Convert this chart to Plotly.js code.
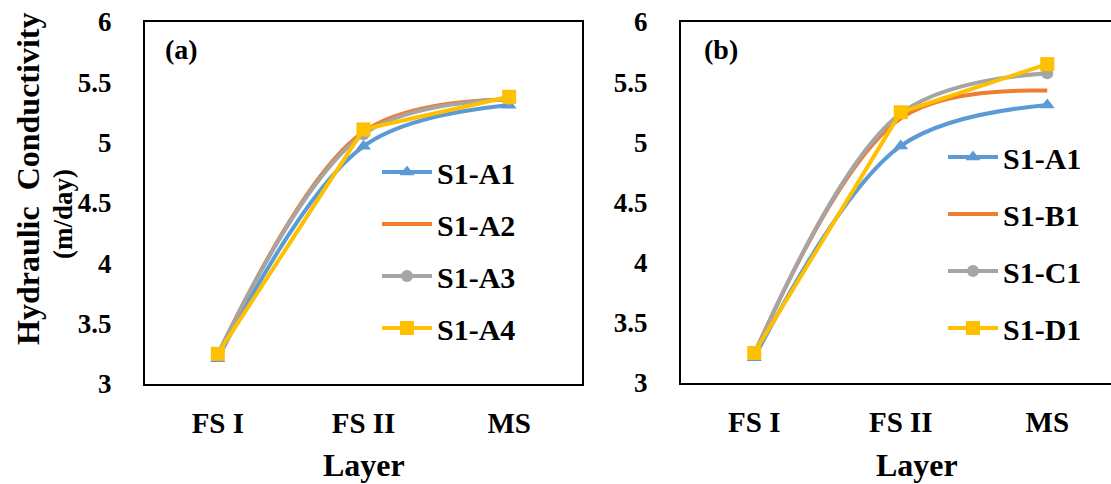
<!DOCTYPE html>
<html>
<head>
<meta charset="utf-8">
<script src="https://cdn.plot.ly/plotly-3.0.1.min.js"></script>
<style>
  html, body { margin: 0; padding: 0; background: #fff; }
  #chart { width: 1111px; height: 484px; }
</style>
</head>
<body>
<div id="chart"></div>
<script>
// Soil layers along the x axis
const layers = ['FS I', 'FS II', 'MS'];

// Panel (a): hydraulic conductivity (m/day), sections S1-A1 .. S1-A4
const namesA = ['S1-A1', 'S1-A2', 'S1-A3', 'S1-A4'];
const kA1 = [3.21, 4.97, 5.31];
const kA2 = [3.24, 5.09, 5.36];
const kA3 = [3.25, 5.07, 5.36];
const kA4 = [3.25, 5.11, 5.38];

// Panel (b): hydraulic conductivity (m/day), sections S1-A1, S1-B1, S1-C1, S1-D1
const namesB = ['S1-A1', 'S1-B1', 'S1-C1', 'S1-D1'];
const kB_A1 = [3.21, 4.97, 5.31];
const kB_B1 = [3.24, 5.20, 5.43];
const kB_C1 = [3.24, 5.24, 5.575];
const kB_D1 = [3.25, 5.25, 5.65];

const FONT = 'Liberation Serif, Times New Roman, serif';
const colors = ['#5B9BD5', '#ED7D31', '#A5A5A5', '#FFC000'];
// per-series marker and line shape (the fourth series is drawn with straight segments)
const markers = [
  {symbol: 'triangle-up', size: 13},
  null,
  {symbol: 'circle', size: 12},
  {symbol: 'square', size: 14}
];
const shapes = ['spline', 'spline', 'spline', 'linear'];

function makeTraces(names, values, xa, ya, legendId) {
  return names.map((nm, i) => {
    const t = {
      type: 'scatter',
      x: layers,
      y: values[i],
      name: nm,
      xaxis: xa,
      yaxis: ya,
      legend: legendId,
      legendgroup: legendId + nm,
      line: {color: colors[i], width: 4, shape: shapes[i], smoothing: 1},
      mode: markers[i] ? 'lines+markers' : 'lines',
      hoverinfo: 'x+y+name'
    };
    if (markers[i]) {
      t.marker = {symbol: markers[i].symbol, size: markers[i].size, color: colors[i]};
    }
    return t;
  });
}

const data = [].concat(
  makeTraces(namesA, [kA1, kA2, kA3, kA4], 'x', 'y', 'legend'),
  makeTraces(namesB, [kB_A1, kB_B1, kB_C1, kB_D1], 'x2', 'y2', 'legend2')
);

const W = 1111, H = 484;
const px = v => v / W;
const py = v => 1 - v / H;

const yTickFont = {family: FONT, size: 27, color: '#000', weight: 'bold'};
const xTickFont = {family: FONT, size: 29, color: '#000', weight: 'bold'};

const xBase = {
  type: 'category',
  showgrid: false,
  zeroline: false,
  showline: true,
  mirror: true,
  linecolor: '#000',
  linewidth: 2,
  ticks: '',
  ticklabelstandoff: 12,
  tickfont: xTickFont,
  fixedrange: true
};
const yBase = {
  range: [3, 6],
  dtick: 0.5,
  showgrid: false,
  zeroline: false,
  showline: true,
  linecolor: '#000',
  linewidth: 2,
  ticks: '',
  ticklabelstandoff: 26,
  tickfont: yTickFont,
  fixedrange: true
};

const legendFont = {family: FONT, size: 30, color: '#000', weight: 'bold'};
const titleFont = {family: FONT, size: 32, color: '#000', weight: 'bold'};
const panelFont = {family: FONT, size: 28, color: '#000', weight: 'bold'};

const layout = {
  width: W,
  height: H,
  margin: {l: 0, r: 0, t: 0, b: 0},
  paper_bgcolor: '#fff',
  plot_bgcolor: '#fff',
  showlegend: true,
  xaxis: Object.assign({}, xBase, {
    domain: [px(145), px(582)],
    range: [-0.5, 2.5],
    anchor: 'y'
  }),
  yaxis: Object.assign({}, yBase, {
    domain: [py(384), py(22)],
    mirror: true,
    anchor: 'x'
  }),
  xaxis2: Object.assign({}, xBase, {
    domain: [px(681), 1],
    range: [-0.5, 2.435],
    anchor: 'y2'
  }),
  yaxis2: Object.assign({}, yBase, {
    domain: [py(383), py(22)],
    mirror: false,
    anchor: 'x2'
  }),
  legend: {
    x: px(377), xanchor: 'left',
    y: py(146), yanchor: 'top',
    bgcolor: 'rgba(0,0,0,0)',
    font: legendFont,
    tracegroupgap: 10,
    itemwidth: 50
  },
  legend2: {
    x: px(943), xanchor: 'left',
    y: py(131), yanchor: 'top',
    bgcolor: 'rgba(0,0,0,0)',
    font: legendFont,
    tracegroupgap: 15,
    itemwidth: 50
  },
  annotations: [
    {text: 'Hydraulic&nbsp;&nbsp;Conductivity', xref: 'paper', yref: 'paper',
     x: px(28), y: py(179), textangle: -90,
     xanchor: 'center', yanchor: 'middle', showarrow: false, font: titleFont},
    {text: '(m/day)', xref: 'paper', yref: 'paper',
     x: px(63), y: py(214), textangle: -90,
     xanchor: 'center', yanchor: 'middle', showarrow: false,
     font: {family: FONT, size: 27, color: '#000', weight: 'bold'}},
    {text: '(a)', xref: 'paper', yref: 'paper', x: px(163), y: py(50),
     xanchor: 'left', yanchor: 'middle', showarrow: false, font: panelFont},
    {text: '(b)', xref: 'paper', yref: 'paper', x: px(702), y: py(50),
     xanchor: 'left', yanchor: 'middle', showarrow: false, font: panelFont},
    {text: 'Layer', xref: 'paper', yref: 'paper', x: px(364), y: py(465),
     xanchor: 'center', yanchor: 'middle', showarrow: false, font: titleFont},
    {text: 'Layer', xref: 'paper', yref: 'paper', x: px(917), y: py(465),
     xanchor: 'center', yanchor: 'middle', showarrow: false, font: titleFont}
  ]
};

Plotly.newPlot('chart', data, layout, {displayModeBar: false, staticPlot: true});
</script>
</body>
</html>
